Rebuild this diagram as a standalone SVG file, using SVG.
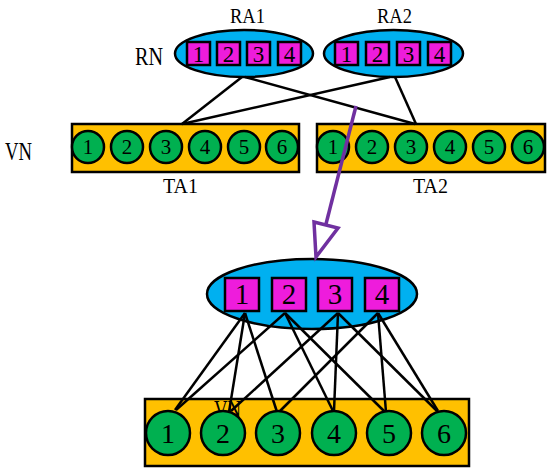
<svg xmlns="http://www.w3.org/2000/svg" width="550" height="471" viewBox="0 0 550 471">
<style>
.ell{fill:#00B0F0;stroke:#000;stroke-width:2.5}
.sq{fill:#EE1CDC;stroke:#000;stroke-width:2.5}
.bar{fill:#FFC000;stroke:#000;stroke-width:2.5}
.cir{fill:#00B050;stroke:#000;stroke-width:2.5}
.t{font-family:"Liberation Serif","DejaVu Serif",serif;fill:#000;text-anchor:middle}
.lbl{font-family:"Liberation Serif","DejaVu Serif",serif;fill:#000}
.ln{stroke:#000;stroke-width:2.5;fill:none}
</style>
<rect width="550" height="471" fill="#fff"/>
<text class="lbl" x="230" y="23" font-size="22" textLength="35" lengthAdjust="spacingAndGlyphs">RA1</text>
<text class="lbl" x="377" y="23" font-size="22" textLength="35" lengthAdjust="spacingAndGlyphs">RA2</text>
<text class="lbl" x="135" y="65" font-size="26" textLength="28" lengthAdjust="spacingAndGlyphs">RN</text>
<text class="lbl" x="5" y="160" font-size="25" textLength="27" lengthAdjust="spacingAndGlyphs">VN</text>
<text class="lbl" x="163" y="193" font-size="20" textLength="35" lengthAdjust="spacingAndGlyphs">TA1</text>
<text class="lbl" x="413" y="193" font-size="20" textLength="35" lengthAdjust="spacingAndGlyphs">TA2</text>
<g id="RA1">
<ellipse class="ell" cx="244" cy="53.5" rx="69" ry="23.5"/>
<rect class="sq" x="187" y="42" width="23" height="23"/><rect class="sq" x="217" y="42" width="23" height="23"/><rect class="sq" x="247" y="42" width="23" height="23"/><rect class="sq" x="278" y="42" width="23" height="23"/>
<g class="t" font-size="23"><text x="198.5" y="61.5">1</text><text x="228.5" y="61.5">2</text><text x="258.5" y="61.5">3</text><text x="289.5" y="61.5">4</text></g>
</g>
<g id="RA2">
<ellipse class="ell" cx="393.5" cy="53.5" rx="69.5" ry="23.5"/>
<rect class="sq" x="335" y="42" width="23" height="23"/><rect class="sq" x="366" y="42" width="23" height="23"/><rect class="sq" x="397" y="42" width="23" height="23"/><rect class="sq" x="428" y="42" width="23" height="23"/>
<g class="t" font-size="23"><text x="346.5" y="61.5">1</text><text x="377.5" y="61.5">2</text><text x="408.5" y="61.5">3</text><text x="439.5" y="61.5">4</text></g>
</g>
<g id="TA1">
<rect class="bar" x="72" y="124" width="227" height="48"/>
<circle class="cir" cx="88" cy="147" r="16"/><circle class="cir" cx="127" cy="147" r="16"/><circle class="cir" cx="166" cy="147" r="16"/><circle class="cir" cx="205" cy="147" r="16"/><circle class="cir" cx="244" cy="147" r="16"/><circle class="cir" cx="282" cy="147" r="16"/>
<g class="t" font-size="21"><text x="88" y="154">1</text><text x="127" y="154">2</text><text x="166" y="154">3</text><text x="205" y="154">4</text><text x="244" y="154">5</text><text x="282" y="154">6</text></g>
</g>
<g id="TA2">
<rect class="bar" x="317" y="124" width="228" height="48"/>
<circle class="cir" cx="333" cy="147" r="16"/><circle class="cir" cx="372" cy="147" r="16"/><circle class="cir" cx="411" cy="147" r="16"/><circle class="cir" cx="450" cy="147" r="16"/><circle class="cir" cx="489" cy="147" r="16"/><circle class="cir" cx="528" cy="147" r="16"/>
<g class="t" font-size="21"><text x="333" y="154">1</text><text x="372" y="154">2</text><text x="411" y="154">3</text><text x="450" y="154">4</text><text x="489" y="154">5</text><text x="528" y="154">6</text></g>
</g>
<g id="RA">
<ellipse class="ell" cx="312" cy="294" rx="105" ry="35"/>
<rect class="sq" x="225" y="278" width="34" height="33"/><rect class="sq" x="272" y="278" width="34" height="33"/><rect class="sq" x="318" y="278" width="34" height="33"/><rect class="sq" x="365" y="278" width="34" height="33"/>
<g class="t" font-size="29"><text x="242" y="304">1</text><text x="289" y="304">2</text><text x="335" y="304">3</text><text x="382" y="304">4</text></g>
</g>
<g id="TA">
<rect class="bar" x="145" y="399" width="324" height="67"/>
<text class="lbl" x="214" y="418" font-size="25" textLength="27" lengthAdjust="spacingAndGlyphs">VN</text>
</g>
<g id="connectors">
<line class="ln" x1="242" y1="77" x2="182" y2="124"/>
<line class="ln" x1="245" y1="77" x2="415" y2="124"/>
<line class="ln" x1="390" y1="77" x2="182" y2="124"/>
<line class="ln" x1="395" y1="77" x2="416" y2="124"/>
<line class="ln" x1="245" y1="313" x2="175" y2="410"/>
<line class="ln" x1="245" y1="313" x2="229" y2="412"/>
<line class="ln" x1="245" y1="313" x2="277" y2="412"/>
<line class="ln" x1="285" y1="313" x2="176" y2="410"/>
<line class="ln" x1="285" y1="313" x2="333" y2="411"/>
<line class="ln" x1="285" y1="313" x2="385" y2="412"/>
<line class="ln" x1="338" y1="313" x2="231" y2="411"/>
<line class="ln" x1="338" y1="313" x2="334" y2="411"/>
<line class="ln" x1="338" y1="313" x2="437" y2="411"/>
<line class="ln" x1="378" y1="313" x2="279" y2="412"/>
<line class="ln" x1="378" y1="313" x2="386" y2="412"/>
<line class="ln" x1="378" y1="313" x2="438" y2="411"/>
<line x1="356" y1="106" x2="326" y2="224" stroke="#7030A0" stroke-width="3.5"/>
<polygon points="314,222 338,228 316,257" fill="#fff" stroke="#7030A0" stroke-width="3.5" stroke-linejoin="miter"/>
</g>
<g id="TA-nodes">
<circle class="cir" cx="168" cy="433" r="22"/><circle class="cir" cx="223" cy="433" r="22"/><circle class="cir" cx="278" cy="433" r="22"/><circle class="cir" cx="334" cy="433" r="22"/><circle class="cir" cx="389" cy="433" r="22"/><circle class="cir" cx="444" cy="433" r="22"/>
<g class="t" font-size="28"><text x="168" y="443">1</text><text x="223" y="443">2</text><text x="278" y="443">3</text><text x="334" y="443">4</text><text x="389" y="443">5</text><text x="444" y="443">6</text></g>
</g>
</svg>
